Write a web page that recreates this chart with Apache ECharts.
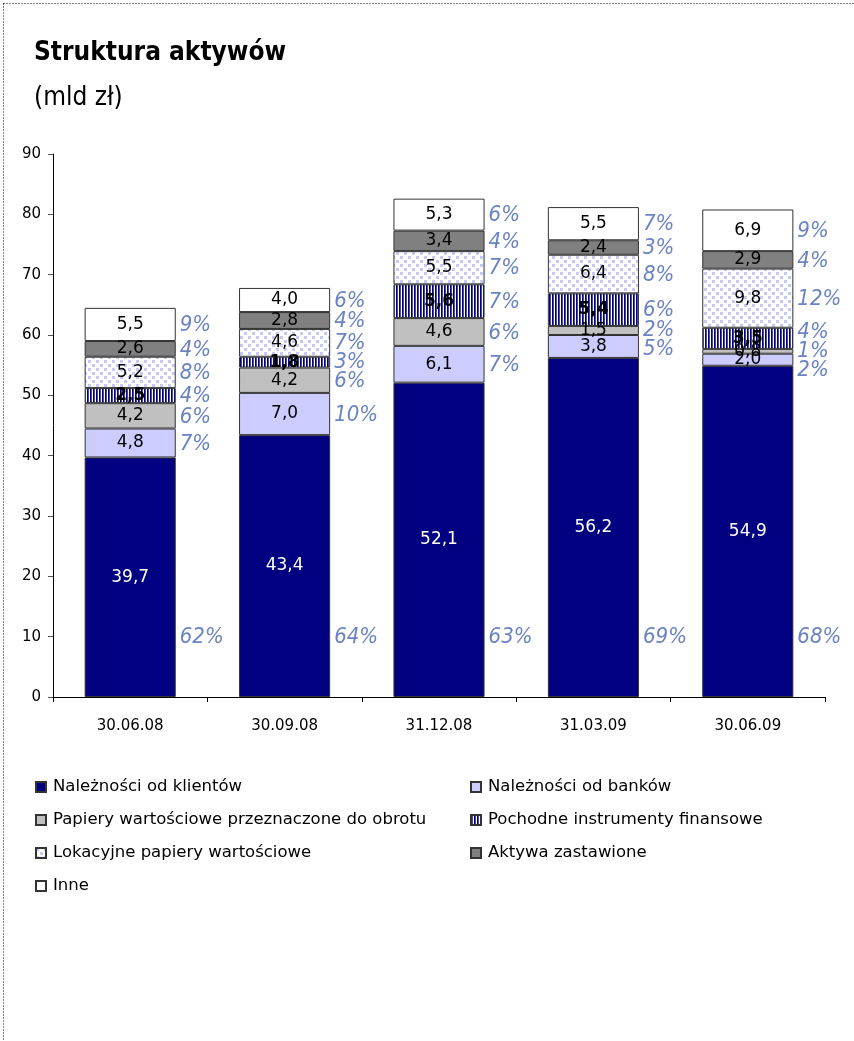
<!DOCTYPE html>
<html>
<head>
<meta charset="utf-8">
<script src="https://cdn.jsdelivr.net/npm/echarts@6/dist/echarts.min.js"></script>
<style>
  html, body { margin: 0; padding: 0; background: #fff; }
  #chart { width: 854px; height: 1041px; }
</style>
</head>
<body>
<div id="chart"></div>
<script>
// Reporting dates
const categories = ['30.06.08', '30.09.08', '31.12.08', '31.03.09', '30.06.09'];

// Asset groups, bottom to top of each stack (mld zł)
const seriesNames = [
  'Należności od klientów',
  'Należności od banków',
  'Papiery wartościowe przeznaczone do obrotu',
  'Pochodne instrumenty finansowe',
  'Lokacyjne papiery wartościowe',
  'Aktywa zastawione',
  'Inne'
];
const klienci   = [39.7, 43.4, 52.1, 56.2, 54.9];
const banki     = [4.8, 7.0, 6.1, 3.8, 2.0];
const papiery   = [4.2, 4.2, 4.6, 1.5, 0.8];
const pochodne  = [2.5, 1.8, 5.6, 5.4, 3.5];
const lokacyjne = [5.2, 4.6, 5.5, 6.4, 9.8];
const zastaw    = [2.6, 2.8, 3.4, 2.4, 2.9];
const inne      = [5.5, 4.0, 5.3, 5.5, 6.9];

// Share of total assets (%), same order
const pctKlienci   = [62, 64, 63, 69, 68];
const pctBanki     = [7, 10, 7, 5, 2];
const pctPapiery   = [6, 6, 6, 2, 1];
const pctPochodne  = [4, 3, 7, 6, 4];
const pctLokacyjne = [8, 7, 7, 8, 12];
const pctZastaw    = [4, 4, 4, 3, 4];
const pctInne      = [9, 6, 6, 7, 9];

// Y axis ticks
const yTicks = [0, 10, 20, 30, 40, 50, 60, 70, 80, 90];

const values = [klienci, banki, papiery, pochodne, lokacyjne, zastaw, inne];
const shares = [pctKlienci, pctBanki, pctPapiery, pctPochodne, pctLokacyjne, pctZastaw, pctInne];

// Fill patterns
function stripePattern() {
  const c = document.createElement('canvas');
  c.width = 3; c.height = 3;
  const g = c.getContext('2d');
  g.fillStyle = '#ffffff'; g.fillRect(0, 0, 3, 3);
  g.fillStyle = '#000080'; g.fillRect(0, 0, 1, 3);
  g.fillStyle = '#4a4aa6'; g.fillRect(1, 0, 1, 3);
  return { image: c, repeat: 'repeat' };
}
function dotPattern() {
  const c = document.createElement('canvas');
  c.width = 8; c.height = 8;
  const g = c.getContext('2d');
  g.fillStyle = '#ffffff'; g.fillRect(0, 0, 8, 8);
  g.fillStyle = '#c8c8f6';
  g.fillRect(0, 0, 3, 3);
  g.fillRect(4, 4, 3, 3);
  return { image: c, repeat: 'repeat' };
}

const fills = ['#000080', '#ccccff', '#c0c0c0', stripePattern(), dotPattern(), '#808080', '#ffffff'];
const labelColors = ['#ffffff', '#000', '#000', '#000', '#000', '#000', '#000'];
const FONT = '"DejaVu Sans", Verdana, sans-serif';
const FONT_NARROW = '"DejaVu Sans Condensed", "DejaVu Sans", sans-serif';
const BAR_RATIO = 0.59;
const PCT_COLOR = '#6b83c3';
const PCT_ANCHOR = 10;   // value level where the first group's share is written
const PCT_MIN_GAP = 19;  // px between neighbouring share labels

const fmt = v => v.toFixed(1).replace('.', ',');

const barSeries = values.map((arr, s) => ({
  name: seriesNames[s],
  type: 'bar',
  stack: 'assets',
  barWidth: (BAR_RATIO * 100) + '%',
  data: arr,
  itemStyle: { color: fills[s], borderColor: '#333', borderWidth: 1 },
  label: {
    show: true,
    position: 'inside',
    formatter: p => fmt(p.value),
    color: labelColors[s],
    fontFamily: FONT,
    fontSize: 17,
    fontWeight: s === 3 ? 'bold' : 'normal'
  },
  emphasis: { disabled: true }
}));

// Share labels written to the right of each stack
const shareSeries = {
  type: 'custom',
  data: categories.map((c, i) => [i, 0]),
  encode: { x: 0, y: 1 },
  silent: true,
  z: 5,
  renderItem: function (params, api) {
    const i = api.value(0);
    const bandW = api.size([1, 0])[0];
    const x = api.coord([i, 0])[0] + bandW * BAR_RATIO / 2 + 4;
    const ys = [];
    let cum = 0;
    for (let s = 0; s < values.length; s++) {
      const v = values[s][i];
      if (s === 0) ys.push(api.coord([i, PCT_ANCHOR])[1]);
      else ys.push(api.coord([i, cum + v / 2])[1]);
      cum += v;
    }
    // spread neighbouring labels apart (ys decrease upward for s >= 1)
    for (let iter = 0; iter < 60; iter++) {
      for (let s = 1; s < ys.length - 1; s++) {
        const gap = ys[s] - ys[s + 1];
        if (gap < PCT_MIN_GAP) {
          const d = (PCT_MIN_GAP - gap) / 2;
          ys[s] += d; ys[s + 1] -= d;
        }
      }
    }
    const children = ys.map((y, s) => ({
      type: 'text',
      style: {
        x: x, y: y + 1,
        text: shares[s][i] + '%',
        fill: PCT_COLOR,
        font: 'italic 22px ' + FONT_NARROW,
        textAlign: 'left',
        textVerticalAlign: 'middle'
      }
    }));
    return { type: 'group', children: children };
  }
};

const chart = echarts.init(document.getElementById('chart'), null, { renderer: 'canvas' });

const legendText = { fontFamily: FONT, fontSize: 16.5, color: '#000', lineHeight: 18, padding: [0, 0, 0, 2] };

chart.setOption({
  animation: false,
  backgroundColor: '#fff',
  title: [
    {
      text: 'Struktura aktywów',
      left: 34, top: 40, padding: 0,
      textStyle: { fontFamily: FONT_NARROW, fontSize: 26, fontWeight: 'bold', color: '#000' }
    },
    {
      text: '(mld zł)',
      left: 34, top: 85, padding: 0,
      textStyle: { fontFamily: FONT_NARROW, fontSize: 26, fontWeight: 'normal', color: '#000' }
    }
  ],
  grid: { left: 53, right: 29, top: 154, bottom: 344, containLabel: false },
  xAxis: {
    type: 'category',
    data: categories,
    axisLine: { lineStyle: { color: '#000', width: 1 } },
    axisTick: { show: true, length: 5, lineStyle: { color: '#000' } },
    axisLabel: { fontFamily: FONT, fontSize: 15, color: '#000', margin: 22 }
  },
  yAxis: {
    type: 'value',
    min: yTicks[0],
    max: yTicks[yTicks.length - 1],
    interval: yTicks[1] - yTicks[0],
    axisLine: { show: true, lineStyle: { color: '#000', width: 1 } },
    axisTick: { show: true, length: 5, lineStyle: { color: '#555' } },
    axisLabel: { fontFamily: FONT, fontSize: 15, color: '#000', margin: 12 },
    splitLine: { show: false }
  },
  legend: [
    {
      orient: 'vertical',
      left: 35, top: 778, padding: 0,
      itemWidth: 10, itemHeight: 10, itemGap: 15,
      icon: 'rect',
      selectedMode: false,
      textStyle: legendText,
      data: [seriesNames[0], seriesNames[2], seriesNames[4], seriesNames[6]]
    },
    {
      orient: 'vertical',
      left: 470, top: 778, padding: 0,
      itemWidth: 10, itemHeight: 10, itemGap: 15,
      icon: 'rect',
      selectedMode: false,
      textStyle: legendText,
      data: [seriesNames[1], seriesNames[3], seriesNames[5]]
    }
  ],
  graphic: [
    { type: 'line', silent: true, shape: { x1: 3.5, y1: 3.5, x2: 854, y2: 3.5 },
      style: { stroke: '#000', lineWidth: 1, lineDash: [1, 2] } },
    { type: 'line', silent: true, shape: { x1: 3.5, y1: 3.5, x2: 3.5, y2: 1041 },
      style: { stroke: '#000', lineWidth: 1, lineDash: [1, 2] } }
  ],
  series: barSeries.concat([shareSeries])
});
</script>
</body>
</html>
